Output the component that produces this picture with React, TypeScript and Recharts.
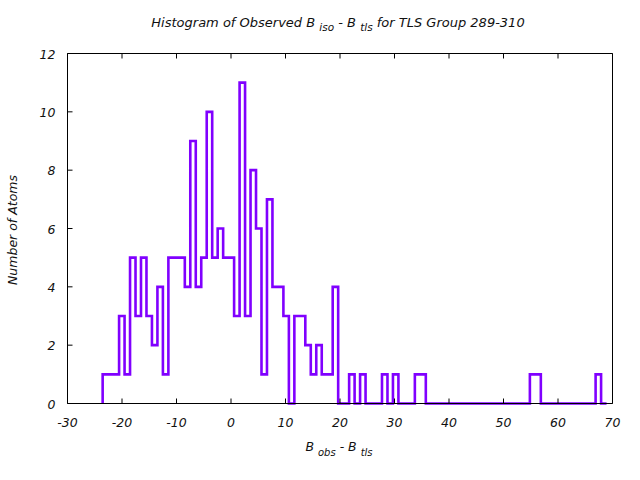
import React from 'react'
import { Line, LineChart, XAxis, YAxis } from 'recharts'

// histogram bins (left edge of first bin, bin width, counts per bin)
const binStart = -23.55
const binWidth = 1.005
const counts = [
  1, 1, 1, 3, 1, 5, 3, 5, 3, 2,
  4, 1, 5, 5, 5, 4, 9, 4, 5, 10,
  5, 6, 5, 5, 3, 11, 3, 8, 6, 1,
  7, 4, 4, 3, 0, 3, 3, 2, 1, 2,
  1, 1, 4, 0, 0, 1, 0, 1, 0, 0,
  0, 1, 0, 1, 0, 0, 0, 1, 1, 0,
  0, 0, 0, 0, 0, 0, 0, 0, 0, 0,
  0, 0, 0, 0, 0, 0, 0, 0, 1, 1,
  0, 0, 0, 0, 0, 0, 0, 0, 0, 0,
  1, 0,
]

const xTicks = [-30, -20, -10, 0, 10, 20, 30, 40, 50, 60, 70]
const yTicks = [0, 2, 4, 6, 8, 10, 12]

const data = [
  { x: binStart, y: 0 },
  ...counts.map((c, i) => ({ x: binStart + i * binWidth, y: c })),
  { x: binStart + counts.length * binWidth, y: counts[counts.length - 1] },
]

const font = "'DejaVu Sans', sans-serif"
const lbl = { fontFamily: font, fontStyle: 'italic', fontSize: 12.5, fill: '#111' }

const BottomTick = (p: any) => (
  <g>
    <line x1={p.x} x2={p.x} y1={p.y} y2={p.y - 5} stroke="#000" />
    <text x={p.x} y={p.y + 23.5} textAnchor="middle" {...lbl}>{p.payload.value}</text>
  </g>
)
const TopTick = (p: any) => <line x1={p.x} x2={p.x} y1={p.y} y2={p.y + 5} stroke="#000" />
const LeftTick = (p: any) => (
  <g>
    <line x1={p.x} x2={p.x + 5} y1={p.y} y2={p.y} stroke="#000" />
    <text x={p.x - 12} y={p.y + 5} textAnchor="end" {...lbl}>{p.payload.value}</text>
  </g>
)
const RightTick = (p: any) => <line x1={p.x} x2={p.x - 5} y1={p.y} y2={p.y} stroke="#000" />

export default function App() {
  return (
    <div style={{ position: 'absolute', left: 0, top: 0, width: 640, height: 480, background: '#fff' }}>
      <LineChart width={640} height={480} data={data} margin={{ top: 0, right: 0, bottom: 0, left: 0 }}>
        <XAxis dataKey="x" type="number" domain={[-30, 70]} ticks={xTicks} height={76.5}
          tickLine={false} tickSize={0} tickMargin={0} tick={BottomTick} stroke="#000" interval={0} />
        <XAxis xAxisId="top" orientation="top" dataKey="x" type="number" domain={[-30, 70]} ticks={xTicks} height={53.5}
          tickLine={false} tickSize={0} tickMargin={0} tick={TopTick} stroke="#000" interval={0} />
        <YAxis type="number" domain={[0, 12]} ticks={yTicks} width={67.5}
          tickLine={false} tickSize={0} tickMargin={0} tick={LeftTick} stroke="#000" interval={0} />
        <YAxis yAxisId="right" orientation="right" type="number" domain={[0, 12]} ticks={yTicks} width={27.5}
          tickLine={false} tickSize={0} tickMargin={0} tick={RightTick} stroke="#000" interval={0} />
        <Line type="stepAfter" dataKey="y" stroke="#8000ff" strokeWidth={2.6} dot={false}
          activeDot={false} isAnimationActive={false} />
      </LineChart>
      <svg width={640} height={480} style={{ position: 'absolute', left: 0, top: 0, pointerEvents: 'none' }}>
        <text x={338} y={27} textAnchor="middle" {...lbl} fontSize={13}>
          Histogram of Observed B <tspan fontSize={10.5} dy={4}>iso</tspan>
          <tspan dy={-4}>  - B </tspan><tspan fontSize={10.5} dy={4}>tls</tspan>
          <tspan dy={-4}>  for TLS Group 289-310</tspan>
        </text>
        <text x={339} y={451} textAnchor="middle" {...lbl}>
          B <tspan fontSize={10} dy={5}>obs</tspan>
          <tspan dy={-5}> - B </tspan><tspan fontSize={10} dy={5}>tls</tspan>
        </text>
        <text x={17} y={230} textAnchor="middle" transform="rotate(-90 17 230)" {...lbl}>Number of Atoms</text>
      </svg>
    </div>
  )
}
